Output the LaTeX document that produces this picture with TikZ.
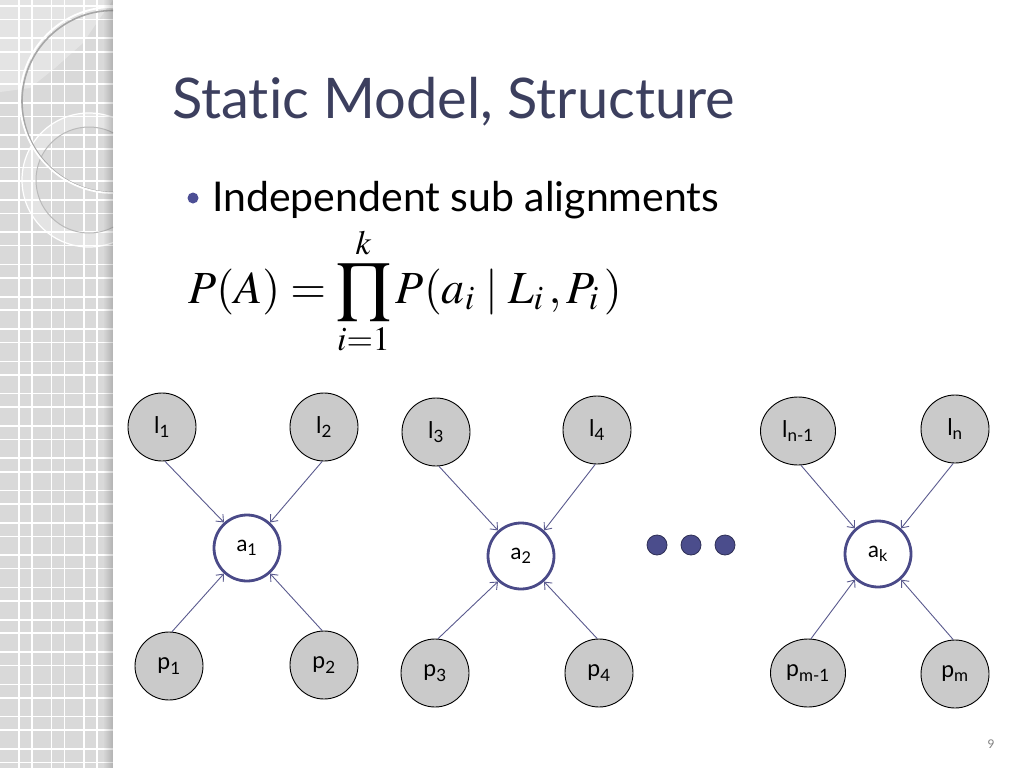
\documentclass[tikz,border=0pt]{standalone}
\usepackage{mathptmx}
\usepackage{fontspec}
\setmainfont{Lato}[Ligatures={NoCommon}]
\usetikzlibrary{arrows.meta,shapes.geometric}
\definecolor{stripc}{HTML}{D9D9D9}
\definecolor{titlec}{HTML}{3C3F5E}
\definecolor{bulc}{HTML}{4D4F95}
\definecolor{arrc}{HTML}{5A5A8E}
\definecolor{latc}{HTML}{4A4A88}
\definecolor{dotc}{HTML}{4B4D8C}
\definecolor{dotb}{HTML}{2E2F55}
\definecolor{obsc}{HTML}{CACACA}
\tikzset{
  obs/.style={circle, draw=black, line width=0.9pt, fill=obsc, minimum size=68pt, inner sep=0pt,
    font=\fontsize{23}{25}\selectfont},
  obsw/.style={ellipse, draw=black, line width=0.9pt, fill=obsc, minimum width=75pt, minimum height=68pt, inner sep=0pt,
    font=\fontsize{23}{25}\selectfont},
  lat/.style={circle, draw=latc, line width=2.8pt, fill=white, minimum size=66pt, inner sep=0pt,
    font=\fontsize{22}{24}\selectfont},
  arr/.style={draw=arrc, line width=0.9pt, -{Straight Barb[length=6pt,width=10pt]}},
  dotn/.style={circle, fill=dotc, draw=dotb, line width=0.8pt, minimum size=20pt, inner sep=0pt},
}
\begin{document}
\begin{tikzpicture}[x=1pt,y=-1pt]
\useasboundingbox (0,0) rectangle (1024,768);
\fill[white] (0,0) rectangle (1024,768);
% left decorative strip
\fill[stripc] (0,0) rectangle (113,768);
\foreach \k in {0,...,3} {
  \draw[white, line width=1.6pt] (19+32.4*\k,0) -- (19+32.4*\k,768);
  \draw[white, line width=1.6pt] (32+32.4*\k,0) -- (32+32.4*\k,768);
}
\foreach \k in {0,...,23} {
  \draw[white, line width=1.6pt] (0,6+32.3*\k) -- (113,6+32.3*\k);
  \draw[white, line width=1.6pt] (0,19.5+32.3*\k) -- (113,19.5+32.3*\k);
}
\begin{scope}
  \clip (0,0) rectangle (113,768);
  \fill[white, opacity=0.3] (0,0) -- (113,0) -- (100,18) -- (83,43) -- (55,68) -- (30,88) -- (0,92) -- cycle;
  \fill[white, opacity=0.3, even odd rule] (89,180) circle (67) (89,180) circle (53);
  \draw[gray!55, line width=1pt] (89,180) circle (53);
  \draw[white, line width=1.2pt] (89,180) circle (67);
  \draw[gray!70, line width=1.6pt] (113,101.5) circle (91);
  \draw[white, line width=1.8pt] (113,100) circle (93);
\end{scope}
\foreach \i in {0,...,9} {
  \fill[black, opacity=0.018*\i] (103+\i,0) rectangle (104+\i,768);
}
% title and bullet
\node[anchor=base west, inner sep=0pt, text=titlec, font=\fontsize{56}{60}\selectfont] (title) at (172,118) {Static Model, Structure};
\node[circle, fill=bulc, minimum size=11pt, inner sep=0pt] (bul) at (193,198) {};
\node[anchor=base west, inner sep=0pt, font=\fontsize{41}{46}\selectfont] (btext) at (212,211) {Independent sub alignments};
\node[anchor=base west, inner sep=0pt, font=\fontsize{46}{50}\selectfont] (formula) at (188,303)
  {$\displaystyle P(A)=\prod_{i=1}^{k}P(a_{i}\;|\;L_{i}\,,P_{i}\,)$};
% group 1
\node[obs] (l1) at (162,427) {l\textsubscript{1}};
\node[obs] (l2) at (324,427) {l\textsubscript{2}};
\node[lat] (a1) at (247,548) {a\textsubscript{1}};
\node[obs] (p1) at (169,666) {p\textsubscript{1}};
\node[obs] (p2) at (324,665) {p\textsubscript{2}};
% group 2
\node[obs] (l3) at (436,432) {l\textsubscript{3}};
\node[obs] (l4) at (597,430) {l\textsubscript{4}};
\node[lat] (a2) at (521,556) {a\textsubscript{2}};
\node[obs] (p3) at (435,673) {p\textsubscript{3}};
\node[obs] (p4) at (599,673) {p\textsubscript{4}};
% group 3
\node[obsw] (ln1) at (798,431) {l\textsubscript{n-1}};
\node[obs] (ln) at (955,429) {l\textsubscript{n}};
\node[lat] (ak) at (878,554) {a\textsubscript{k}};
\node[obsw] (pm1) at (808,673) {p\textsubscript{m-1}};
\node[obs] (pm) at (955,674) {p\textsubscript{m}};
% dots
\node[dotn] (d1) at (657,545) {};
\node[dotn] (d2) at (691,545) {};
\node[dotn] (d3) at (725,545) {};
% arrows
\foreach \u/\v in {l1/a1,l3/a2,ln1/ak} \draw[arr] (\u.-85) -- (\v.132);
\foreach \u/\v in {l2/a1,l4/a2,ln/ak} \draw[arr] (\u.-93) -- (\v.48);
\foreach \u/\v in {p1/a1,p3/a2,pm1/ak} \draw[arr] (\u.85) -- (\v.-132);
\foreach \u/\v in {p2/a1,p4/a2,pm/ak} \draw[arr] (\u.93) -- (\v.-48);
% page number
\node[text=gray, font=\fontsize{12}{14}\selectfont] (pg) at (991,744) {9};
\end{tikzpicture}
\end{document}
